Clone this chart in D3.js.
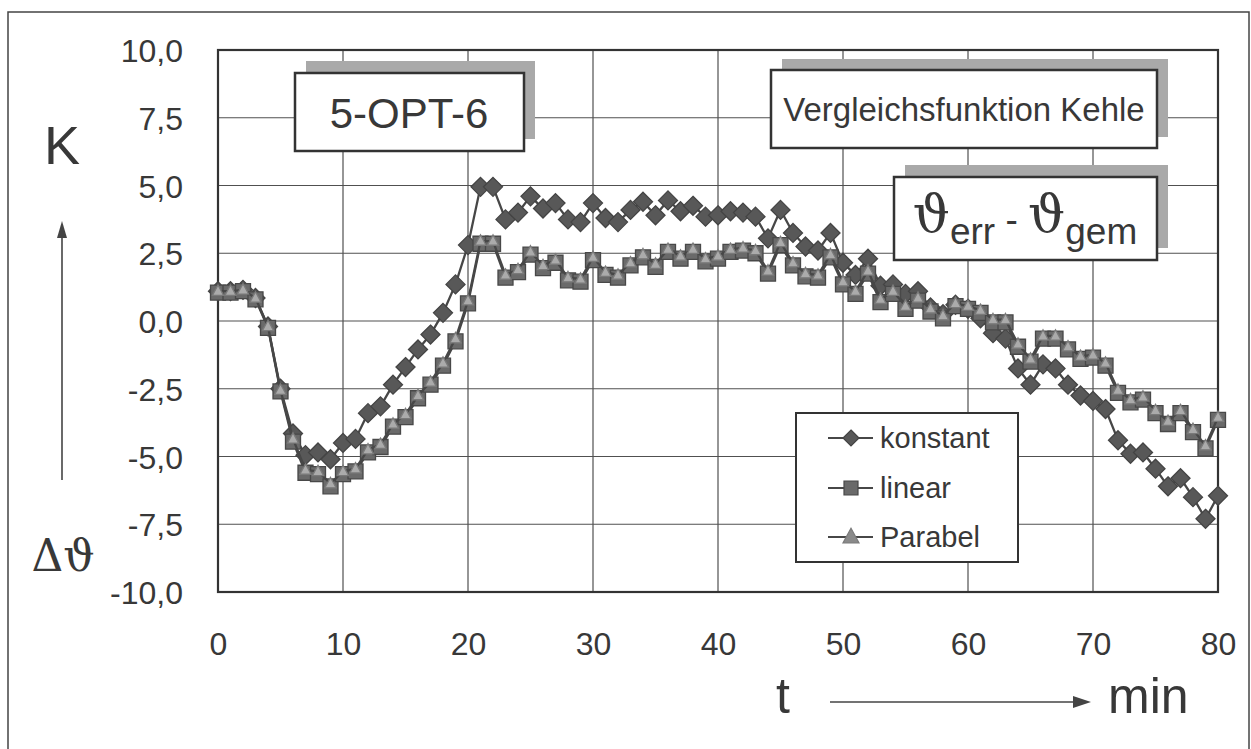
<!DOCTYPE html>
<html><head><meta charset="utf-8">
<script src="https://cdn.jsdelivr.net/npm/d3@7"></script>
<style>
html,body{margin:0;padding:0;background:#fff;}
svg{display:block;}
text{font-family:"Liberation Sans",Arial,Helvetica,sans-serif;fill:#383838;}
</style></head>
<body>
<svg id="chart" width="1251" height="749"></svg>
<script>
const minutes = [0,1,2,3,4,5,6,7,8,9,10,11,12,13,14,15,16,17,18,19,20,21,22,23,24,25,26,27,28,29,30,31,32,33,34,35,36,37,38,39,40,41,42,43,44,45,46,47,48,49,50,51,52,53,54,55,56,57,58,59,60,61,62,63,64,65,66,67,68,69,70,71,72,73,74,75,76,77,78,79,80];
const konstant = [1.1,1.1,1.15,0.85,-0.2,-2.5,-4.15,-4.95,-4.85,-5.1,-4.5,-4.35,-3.4,-3.15,-2.35,-1.7,-1.05,-0.5,0.3,1.35,2.8,4.95,4.95,3.75,4.0,4.6,4.15,4.35,3.75,3.65,4.35,3.8,3.65,4.1,4.4,3.9,4.45,4.05,4.25,3.85,3.9,4.05,4.0,3.85,3.05,4.1,3.25,2.75,2.6,3.25,2.15,1.7,2.3,1.3,1.35,1.0,1.1,0.5,0.25,0.6,0.45,0.1,-0.45,-0.65,-1.75,-2.35,-1.6,-1.75,-2.35,-2.75,-2.95,-3.25,-4.4,-4.9,-4.85,-5.45,-6.1,-5.8,-6.5,-7.3,-6.45];
const linear = [1.05,1.05,1.1,0.8,-0.25,-2.6,-4.45,-5.6,-5.65,-6.1,-5.65,-5.55,-4.85,-4.65,-3.9,-3.55,-2.85,-2.35,-1.65,-0.75,0.65,2.85,2.85,1.6,1.8,2.45,1.95,2.15,1.5,1.45,2.25,1.7,1.6,2.05,2.35,2.0,2.55,2.3,2.55,2.2,2.3,2.55,2.6,2.5,1.75,2.8,2.05,1.65,1.6,2.35,1.35,1.0,1.75,0.7,1.0,0.45,0.75,0.35,0.1,0.55,0.45,0.3,-0.05,-0.05,-0.95,-1.5,-0.65,-0.65,-1.05,-1.4,-1.35,-1.65,-2.65,-3.0,-2.9,-3.4,-3.8,-3.4,-4.1,-4.7,-3.65];
const parabel = [1.1,1.1,1.15,0.85,-0.2,-2.55,-4.35,-5.5,-5.55,-6.0,-5.55,-5.45,-4.75,-4.55,-3.8,-3.45,-2.75,-2.25,-1.55,-0.65,0.75,2.95,2.95,1.7,1.9,2.55,2.05,2.25,1.6,1.55,2.35,1.8,1.7,2.15,2.45,2.1,2.65,2.4,2.65,2.3,2.4,2.65,2.7,2.6,1.85,2.9,2.15,1.75,1.7,2.45,1.45,1.1,1.85,0.8,1.1,0.55,0.85,0.45,0.2,0.65,0.55,0.4,0.05,0.05,-0.85,-1.4,-0.55,-0.55,-0.95,-1.3,-1.25,-1.55,-2.55,-2.9,-2.8,-3.3,-3.7,-3.3,-4.0,-4.6,-3.55];
const seriesNames = ["konstant","linear","Parabel"];
const xTicks = [0,10,20,30,40,50,60,70,80];
const yTicks = [-10,-7.5,-5,-2.5,0,2.5,5,7.5,10];

const svg = d3.select("#chart");
const dark = "#333", lineCol = "#474747";
const x = d3.scaleLinear().domain([0,80]).range([218,1218]);
const y = d3.scaleLinear().domain([-10,10]).range([592,50]);
const loc = d3.formatLocale({decimal:",",thousands:".",grouping:[3],currency:["",""],minus:"-"});
const fmt = loc.format(".1f");

// outer frame
svg.append("rect").attr("x",8).attr("y",12).attr("width",1241).attr("height",760)
  .attr("fill","none").attr("stroke","#444").attr("stroke-width",1.5);

// gridlines
const g = svg.append("g");
g.selectAll("line.v").data(xTicks.slice(1,-1)).join("line")
  .attr("x1",d=>x(d)).attr("x2",d=>x(d)).attr("y1",y(10)).attr("y2",y(-10))
  .attr("stroke","#505050").attr("stroke-width",1.2);
g.selectAll("line.h").data(yTicks.slice(1,-1)).join("line")
  .attr("y1",d=>y(d)).attr("y2",d=>y(d)).attr("x1",x(0)).attr("x2",x(80))
  .attr("stroke","#505050").attr("stroke-width",1.2);
svg.append("rect").attr("x",x(0)).attr("y",y(10)).attr("width",x(80)-x(0)).attr("height",y(-10)-y(10))
  .attr("fill","none").attr("stroke",dark).attr("stroke-width",2.2);

// axes labels via d3 axes
const ya = svg.append("g").attr("transform",`translate(${x(0)},0)`)
  .call(d3.axisLeft(y).tickValues(yTicks).tickSize(0).tickPadding(35).tickFormat(fmt));
ya.select(".domain").remove();
ya.selectAll("text").attr("font-size",32).attr("fill","#383838").attr("dy","0.36em")
  .style("font-family","Liberation Sans, Arial, sans-serif");
const xa = svg.append("g").attr("transform",`translate(0,${y(-10)})`)
  .call(d3.axisBottom(x).tickValues(xTicks).tickSize(0).tickFormat(d3.format("d")));
xa.select(".domain").remove();
xa.selectAll("text").attr("font-size",32).attr("fill","#383838").attr("y",51).attr("dy","0.36em")
  .style("font-family","Liberation Sans, Arial, sans-serif");

// text boxes with shadows
function box(x0,y0,w,h,dx,dy){
  svg.append("rect").attr("x",x0+dx).attr("y",y0+dy).attr("width",w).attr("height",h).attr("fill","#a9a9a9");
  svg.append("rect").attr("x",x0).attr("y",y0).attr("width",w).attr("height",h)
    .attr("fill","#fff").attr("stroke",dark).attr("stroke-width",2.5);
}
box(295,73,229,78,11,-12);
svg.append("text").attr("x",409).attr("y",113).attr("dy","0.36em").attr("text-anchor","middle")
  .attr("font-size",42).text("5-OPT-6");
box(771,70,386,78,11,-11);
svg.append("text").attr("x",964).attr("y",109).attr("dy","0.36em").attr("text-anchor","middle")
  .attr("font-size",33).text("Vergleichsfunktion Kehle");
box(894,177,263,83,11,-12);
const th = svg.append("text").attr("x",1025).attr("y",232).attr("text-anchor","middle");
th.append("tspan").attr("font-size",52).style("font-family","DejaVu Serif, serif").text("ϑ");
th.append("tspan").attr("font-size",37).attr("dy",12).text("err");
th.append("tspan").attr("font-size",37).attr("dy",-12).text(" - ");
th.append("tspan").attr("font-size",52).style("font-family","DejaVu Serif, serif").text("ϑ");
th.append("tspan").attr("font-size",37).attr("dy",12).text("gem");

// axis titles
svg.append("text").attr("x",62).attr("y",145).attr("dy","0.36em").attr("text-anchor","middle")
  .attr("font-size",54).text("K");
svg.append("text").attr("x",63).attr("y",555).attr("dy","0.36em").attr("text-anchor","middle")
  .attr("font-size",44).style("font-family","DejaVu Serif, serif").text("Δϑ");
svg.append("line").attr("x1",62).attr("x2",62).attr("y1",480).attr("y2",236).attr("stroke","#444").attr("stroke-width",1.6);
svg.append("path").attr("d","M62,221 L57,238 L67,238 Z").attr("fill","#444");
svg.append("text").attr("x",783).attr("y",713).attr("text-anchor","middle").attr("font-size",50).text("t");
svg.append("line").attr("x1",830).attr("x2",1076).attr("y1",702).attr("y2",702).attr("stroke","#444").attr("stroke-width",1.6);
svg.append("path").attr("d","M1091,702 L1073,696 L1073,708 Z").attr("fill","#444");
svg.append("text").attr("x",1108).attr("y",713).attr("font-size",50).text("min");

// markers
function diamond(cx,cy,r){return `M${cx},${cy-r}L${cx+r},${cy}L${cx},${cy+r}L${cx-r},${cy}Z`;}
function square(cx,cy,r){return `M${cx-r},${cy-r}H${cx+r}V${cy+r}H${cx-r}Z`;}
function tri(cx,cy,r){return `M${cx},${cy-r*1.1}L${cx+r},${cy+r*0.75}L${cx-r},${cy+r*0.75}Z`;}
const styles = [
  {vals:konstant, shape:diamond, r:9.5, fill:"#585858", stroke:"#444"},
  {vals:linear, shape:square, r:7.5, fill:"#6a6a6a", stroke:"#484848"},
  {vals:parabel, shape:tri, r:5.6, fill:"#ababab", stroke:"#7a7a7a"}
];
const line = d3.line().x(d=>x(d[0])).y(d=>y(d[1]));
styles.forEach(s=>{
  const pts = minutes.map((m,i)=>[m,s.vals[i]]);
  svg.append("path").datum(pts).attr("d",line).attr("fill","none").attr("stroke",lineCol).attr("stroke-width",2.3);
  svg.append("g").selectAll("path").data(pts).join("path")
    .attr("d",d=>s.shape(x(d[0]),y(d[1]),s.r)).attr("fill",s.fill).attr("stroke",s.stroke).attr("stroke-width",1.3);
});

// legend
svg.append("rect").attr("x",796).attr("y",413).attr("width",222).attr("height",149)
  .attr("fill","#fff").attr("stroke",dark).attr("stroke-width",2);
const legY = [438,488,537];
styles.forEach((s,i)=>{
  svg.append("line").attr("x1",828).attr("x2",873).attr("y1",legY[i]).attr("y2",legY[i]).attr("stroke",lineCol).attr("stroke-width",2);
  svg.append("path").attr("d",s.shape(851,legY[i],i===0?8:(i===1?7:8))).attr("fill",i===2?"#8a8a8a":s.fill).attr("stroke",s.stroke).attr("stroke-width",1.2);
  svg.append("text").attr("x",880).attr("y",legY[i]).attr("dy","0.36em").attr("font-size",29).text(seriesNames[i]);
});
</script>
</body></html>
